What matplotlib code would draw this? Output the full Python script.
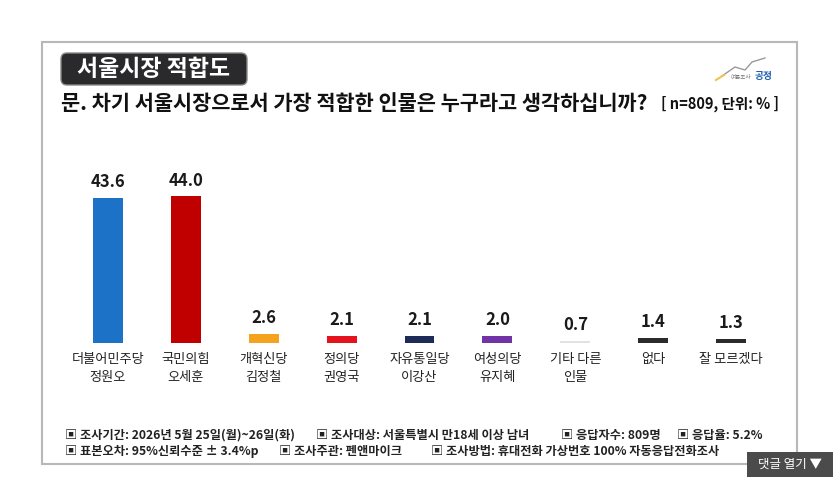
import matplotlib
matplotlib.use("Agg")
import matplotlib.pyplot as plt
from matplotlib.patches import Rectangle, FancyBboxPatch

plt.rcParams['font.family'] = ['Noto Sans CJK KR', 'DejaVu Sans']

# data
categories = ['더불어민주당\n정원오', '국민의힘\n오세훈', '개혁신당\n김정철', '정의당\n권영국',
              '자유통일당\n이강산', '여성의당\n유지혜', '기타 다른\n인물', '없다', '잘 모르겠다']
values = [43.6, 44.0, 2.6, 2.1, 2.1, 2.0, 0.7, 1.4, 1.3]
colors = ['#1b72c6', '#c00000', '#f5a21e', '#e5131d', '#1f2b57',
          '#7133a6', '#e2e2e2', '#2b2b2b', '#2b2b2b']

title = '서울시장 적합도'
question = '문. 차기 서울시장으로서 가장 적합한 인물은 누구라고 생각하십니까?'
note = '[ n=809, 단위: % ]'
footer_1 = ['▣ 조사기간: 2026년 5월 25일(월)~26일(화)', '▣ 조사대상: 서울특별시 만18세 이상 남녀',
            '▣ 응답자수: 809명', '▣ 응답율: 5.2%']
footer_2 = ['▣ 표본오차: 95%신뢰수준 ± 3.4%p', '▣ 조사주관: 펜앤마이크',
            '▣ 조사방법: 휴대전화 가상번호 100% 자동응답전화조사']

W, H = 838, 503
fig = plt.figure(figsize=(W / 100, H / 100), dpi=100)
fig.patch.set_facecolor('white')

# pixel overlay axes
bg = fig.add_axes([0, 0, 1, 1])
bg.set_xlim(0, W)
bg.set_ylim(H, 0)
bg.axis('off')

# outer frame
bg.add_patch(Rectangle((42, 42), 755, 422, facecolor='white', edgecolor='#b8b8b8', lw=1.5))

# title badge
bg.add_patch(FancyBboxPatch((61, 53), 186, 32, boxstyle='round,pad=0,rounding_size=6',
                            facecolor='#2a2a2c', edgecolor='#888888', lw=1))
bg.text(154, 69, title, color='white', fontsize=16.5, fontweight='bold', ha='center', va='center')

# question
bg.text(61, 103, question, color='#111111', fontsize=15, fontweight='bold', ha='left', va='center')
bg.text(779, 104, note, color='#111111', fontsize=10.5, fontweight='bold', ha='right', va='center')

# logo
bg.plot([722, 735, 745, 752, 765], [76, 67, 70, 62, 58], color='#9a9a9a', lw=1)
bg.plot([716, 724], [80, 75], color='#f2c14e', lw=1.5)
bg.text(741, 77, '여론조사', color='#777777', fontsize=4, ha='center', va='center')
bg.text(764, 76, '공정', color='#1f5fb0', fontsize=7, fontweight='bold', ha='center', va='center')

# footer
for x, s in zip([65, 316, 561, 677], footer_1):
    bg.text(x, 435, s, fontsize=8.8, fontweight='bold', color='#222222', ha='left', va='center')
for x, s in zip([65, 279, 431], footer_2):
    bg.text(x, 451, s, fontsize=8.8, fontweight='bold', color='#222222', ha='left', va='center')

# comment button
bg.add_patch(Rectangle((747, 452), 86, 25, facecolor='#4b4b4b', edgecolor='none'))
bg.text(790, 464.5, '댓글 열기 ▼', color='white', fontsize=9, ha='center', va='center')

# bar chart axes
left, right = 69, 770
bottom, top = 343, 176.5
ax = fig.add_axes([left / W, (H - bottom) / H, (right - left) / W, (bottom - top) / H])
ax.patch.set_alpha(0)
x = list(range(len(values)))
ax.bar(x, values, width=0.385, color=colors)
ax.set_xlim(-0.5, len(values) - 0.5)
ax.set_ylim(0, 50)
for xi, v in zip(x, values):
    ax.annotate(f'{v:.1f}', (xi, v), xytext=(0, 5), textcoords='offset points',
                ha='center', va='bottom', fontsize=12, fontweight='bold', color='#1a1a1a')
ax.set_xticks(x)
ax.set_xticklabels(categories, fontsize=9.5, color='#222222', linespacing=1.5)
ax.tick_params(axis='x', length=0, pad=7)
ax.set_yticks([])
for s in ax.spines.values():
    s.set_visible(False)

fig.savefig('out.png', dpi=100, facecolor='white')
